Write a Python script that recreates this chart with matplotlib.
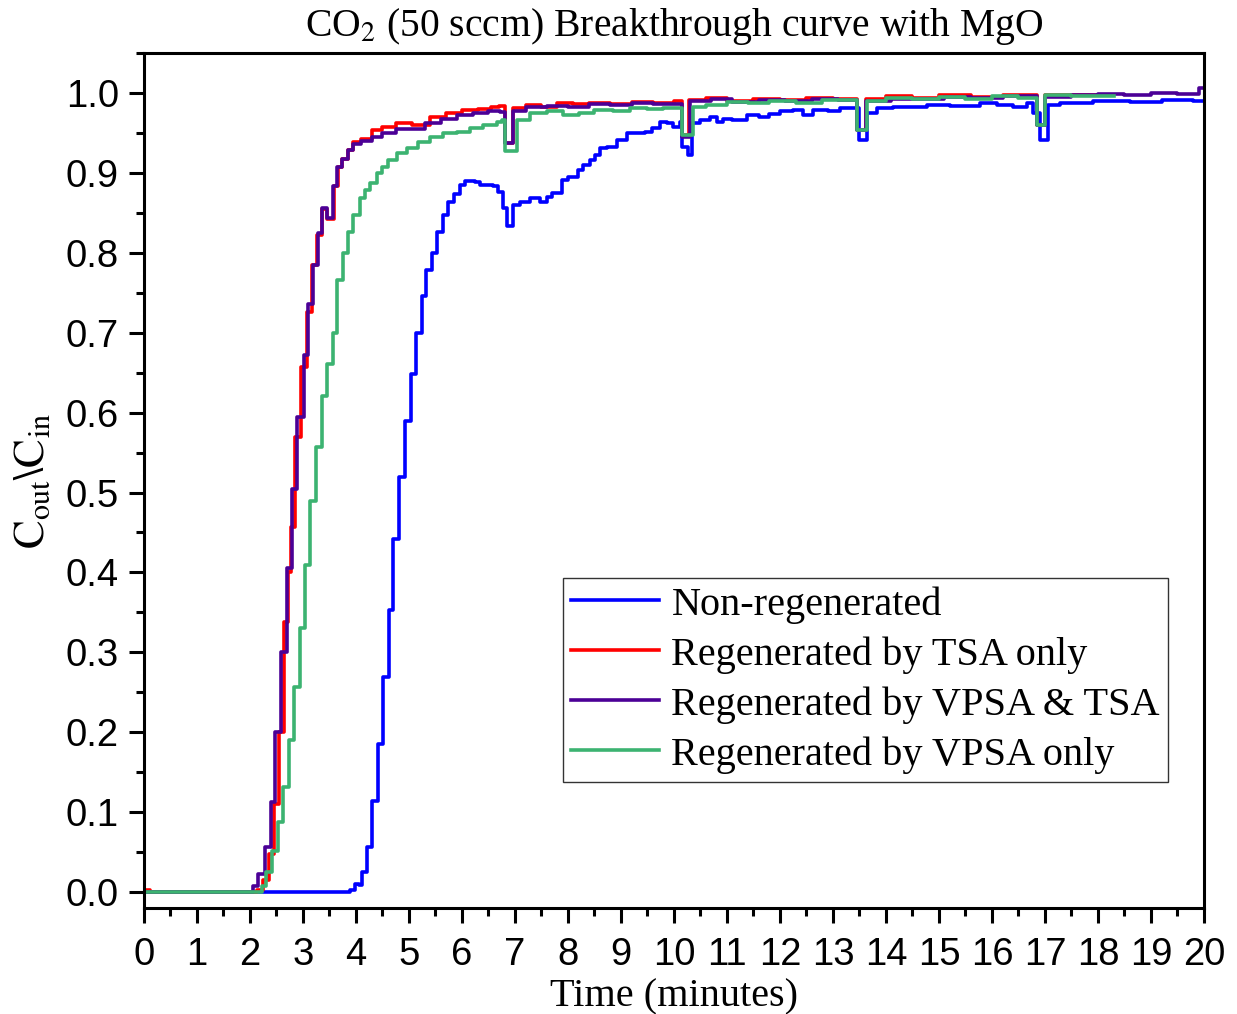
import matplotlib
matplotlib.use("Agg")
import matplotlib.pyplot as plt
from matplotlib.ticker import MultipleLocator

# Breakthrough data, stored as change points (time in minutes, C_out/C_in)
# and drawn as post-steps like the analyser's sampled output.
t_nonregen = [0.00, 3.89, 3.98, 4.05, 4.11, 4.21, 4.31, 4.42, 4.51, 4.62, 4.70, 4.82,
              4.92, 5.03, 5.14, 5.24, 5.33, 5.43, 5.52, 5.65, 5.74, 5.85, 5.96, 6.06,
              6.25, 6.34, 6.58, 6.68, 6.77, 6.85, 6.96, 7.09, 7.28, 7.47, 7.60, 7.70,
              7.89, 8.00, 8.19, 8.28, 8.42, 8.51, 8.60, 8.74, 8.92, 9.11, 9.45, 9.58,
              9.74, 9.87, 9.98, 10.11, 10.15, 10.26, 10.34, 10.49, 10.68, 10.81, 10.92,
              11.10, 11.38, 11.60, 11.80, 12.00, 12.25, 12.43, 12.62, 12.90, 13.13,
              13.50, 13.65, 13.83, 14.13, 14.50, 14.77, 15.20, 15.77, 16.10, 16.40,
              16.66, 16.77, 16.90, 17.06, 17.28, 17.90, 18.60, 19.20, 19.80, 20.00]
v_nonregen = [0.000, 0.002, 0.010, 0.009, 0.025, 0.057, 0.114, 0.185, 0.269, 0.353, 0.442, 0.519,
              0.589, 0.648, 0.700, 0.746, 0.778, 0.800, 0.826, 0.847, 0.863, 0.874, 0.885, 0.890,
              0.888, 0.885, 0.883, 0.876, 0.856, 0.833, 0.860, 0.863, 0.868, 0.864, 0.870, 0.875,
              0.891, 0.895, 0.904, 0.910, 0.916, 0.922, 0.931, 0.933, 0.941, 0.950, 0.951, 0.956,
              0.964, 0.962, 0.958, 0.964, 0.933, 0.922, 0.962, 0.966, 0.970, 0.964, 0.968,
              0.966, 0.972, 0.970, 0.974, 0.977, 0.979, 0.972, 0.979, 0.978, 0.981,
              0.941, 0.975, 0.981, 0.983, 0.982, 0.985, 0.984, 0.987, 0.985, 0.983,
              0.987, 0.975, 0.941, 0.985, 0.987, 0.990, 0.989, 0.991, 0.990, 0.990]

t_tsa = [0.00, 0.12, 2.13, 2.24, 2.36, 2.45, 2.55, 2.65, 2.71, 2.77, 2.85, 2.96, 3.07,
         3.17, 3.26, 3.36, 3.45, 3.58, 3.66, 3.74, 3.84, 3.94, 4.10, 4.30, 4.50, 4.75,
         5.05, 5.40, 5.70, 6.00, 6.30, 6.55, 6.70, 6.81, 6.96, 7.20, 7.50, 7.80, 8.10,
         8.40, 8.80, 9.20, 9.60, 10.00, 10.15, 10.28, 10.60, 11.00, 11.50, 12.00, 12.50,
         13.00, 13.45, 13.62, 14.00, 14.50, 15.00, 15.60, 16.20, 16.85, 17.00, 17.60, 18.20]
v_tsa = [0.003, 0.000, 0.003, 0.015, 0.047, 0.110, 0.200, 0.338, 0.400, 0.457, 0.570, 0.657, 0.726,
         0.785, 0.822, 0.855, 0.842, 0.884, 0.908, 0.918, 0.929, 0.939, 0.943, 0.954, 0.958, 0.962,
         0.960, 0.970, 0.975, 0.979, 0.980, 0.983, 0.984, 0.937, 0.981, 0.985, 0.983, 0.987, 0.986,
         0.988, 0.986, 0.989, 0.988, 0.990, 0.947, 0.991, 0.994, 0.990, 0.993, 0.991, 0.994,
         0.992, 0.954, 0.993, 0.996, 0.994, 0.997, 0.995, 0.997, 0.960, 0.997, 0.998, 0.997]

t_vpsa_tsa = [0.00, 2.06, 2.16, 2.28, 2.39, 2.48, 2.58, 2.69, 2.79, 2.89, 3.01, 3.10,
              3.19, 3.28, 3.36, 3.45, 3.56, 3.65, 3.74, 3.85, 3.95, 4.10, 4.30, 4.50,
              4.75, 5.00, 5.30, 5.60, 5.90, 6.20, 6.50, 6.72, 6.81, 6.96, 7.20, 7.60,
              8.00, 8.40, 8.80, 9.20, 9.60, 10.15, 10.30, 10.70, 11.10, 11.60, 12.10,
              12.60, 13.10, 13.45, 13.62, 14.10, 14.60, 15.10, 15.60, 16.20, 16.85, 17.00,
              17.50, 18.00, 18.50, 19.00, 19.50, 19.90, 20.00]
v_vpsa_tsa = [0.000, 0.007, 0.022, 0.056, 0.113, 0.200, 0.300, 0.405, 0.504, 0.595, 0.672, 0.736,
              0.785, 0.825, 0.856, 0.843, 0.884, 0.908, 0.918, 0.929, 0.936, 0.940, 0.945, 0.950,
              0.955, 0.955, 0.962, 0.968, 0.972, 0.975, 0.978, 0.976, 0.937, 0.978, 0.982, 0.984,
              0.983, 0.986, 0.985, 0.987, 0.986, 0.945, 0.990, 0.992, 0.989, 0.991, 0.990,
              0.993, 0.991, 0.954, 0.990, 0.993, 0.992, 0.995, 0.994, 0.996, 0.960, 0.995,
              0.997, 0.999, 0.997, 1.000, 0.999, 1.006, 1.006]

t_vpsa = [0.00, 2.22, 2.31, 2.42, 2.52, 2.63, 2.73, 2.83, 2.94, 3.04, 3.13, 3.24, 3.35,
          3.46, 3.56, 3.64, 3.75, 3.85, 3.94, 4.07, 4.17, 4.26, 4.40, 4.49, 4.60, 4.77,
          4.96, 5.17, 5.40, 5.64, 5.90, 6.15, 6.40, 6.66, 6.75, 6.81, 7.04, 7.28, 7.60,
          7.90, 8.20, 8.50, 8.85, 9.17, 9.50, 9.80, 10.15, 10.36, 10.60, 11.00, 11.40,
          11.80, 12.30, 12.80, 13.45, 13.65, 14.00, 14.50, 15.00, 15.50, 16.00, 16.50,
          16.85, 17.00, 17.50, 18.30]
v_vpsa = [0.000, 0.0075, 0.025, 0.052, 0.088, 0.132, 0.190, 0.257, 0.330, 0.409, 0.490, 0.557, 0.621,
          0.661, 0.700, 0.766, 0.800, 0.826, 0.847, 0.868, 0.878, 0.887, 0.900, 0.908, 0.916, 0.925,
          0.931, 0.939, 0.945, 0.950, 0.951, 0.956, 0.960, 0.964, 0.966, 0.927, 0.966, 0.975, 0.977,
          0.973, 0.975, 0.979, 0.978, 0.981, 0.980, 0.981, 0.947, 0.983, 0.985, 0.989, 0.987,
          0.990, 0.988, 0.991, 0.954, 0.990, 0.994, 0.992, 0.995, 0.993, 0.996, 0.994,
          0.960, 0.997, 0.996, 0.996]

series = [
    ("Non-regenerated", t_nonregen, v_nonregen, "#0000FF"),
    ("Regenerated by TSA only", t_tsa, v_tsa, "#FF0000"),
    ("Regenerated by VPSA & TSA", t_vpsa_tsa, v_vpsa_tsa, "#4B0096"),
    ("Regenerated by VPSA only", t_vpsa, v_vpsa, "#3CB371"),
]

plt.rcParams["mathtext.fontset"] = "stix"
serif = "Liberation Serif"
sans = "Liberation Sans"

fig = plt.figure(figsize=(12.37, 10.14), dpi=100)
ax = fig.add_axes([0.1164, 0.1045, 0.8569, 0.8432])

for label, t, v, color in series:
    ax.plot(t, v, drawstyle="steps-post", color=color, lw=2.6, label=label)

ax.set_xlim(0, 20)
ax.set_ylim(-0.02, 1.05)
ax.xaxis.set_major_locator(MultipleLocator(1))
ax.xaxis.set_minor_locator(MultipleLocator(0.5))
ax.yaxis.set_major_locator(MultipleLocator(0.1))
ax.yaxis.set_minor_locator(MultipleLocator(0.05))
ax.yaxis.set_major_formatter(plt.FuncFormatter(lambda y, _: f"{y:.1f}"))

for s in ax.spines.values():
    s.set_linewidth(2.2)
ax.tick_params(which="major", direction="out", length=11, width=2.2, labelsize=27.5, pad=7)
ax.tick_params(axis="x", which="major", pad=10)
ax.tick_params(which="minor", direction="out", length=5.5, width=2.2)
for lab in ax.get_xticklabels() + ax.get_yticklabels():
    lab.set_fontfamily(sans)

ax.set_xlabel("Time (minutes)", fontfamily=serif, fontsize=29, labelpad=4)
ax.set_ylabel(r"$\mathrm{C_{out}\backslash C_{in}}$", fontsize=31, labelpad=9)
ax.set_title(r"CO$_2$ (50 sccm) Breakthrough curve with MgO", fontfamily=serif,
             fontsize=28.5, pad=12)

leg = ax.legend(loc="upper left", bbox_to_anchor=(0.395, 0.386), borderaxespad=0,
                prop={"family": serif, "size": 29}, frameon=True, fancybox=False,
                handlelength=2.2, handletextpad=0.3, labelspacing=0.31,
                borderpad=0.2, edgecolor="black")
leg.get_frame().set_linewidth(1.0)

fig.savefig("out.png", dpi=100, facecolor="white")
